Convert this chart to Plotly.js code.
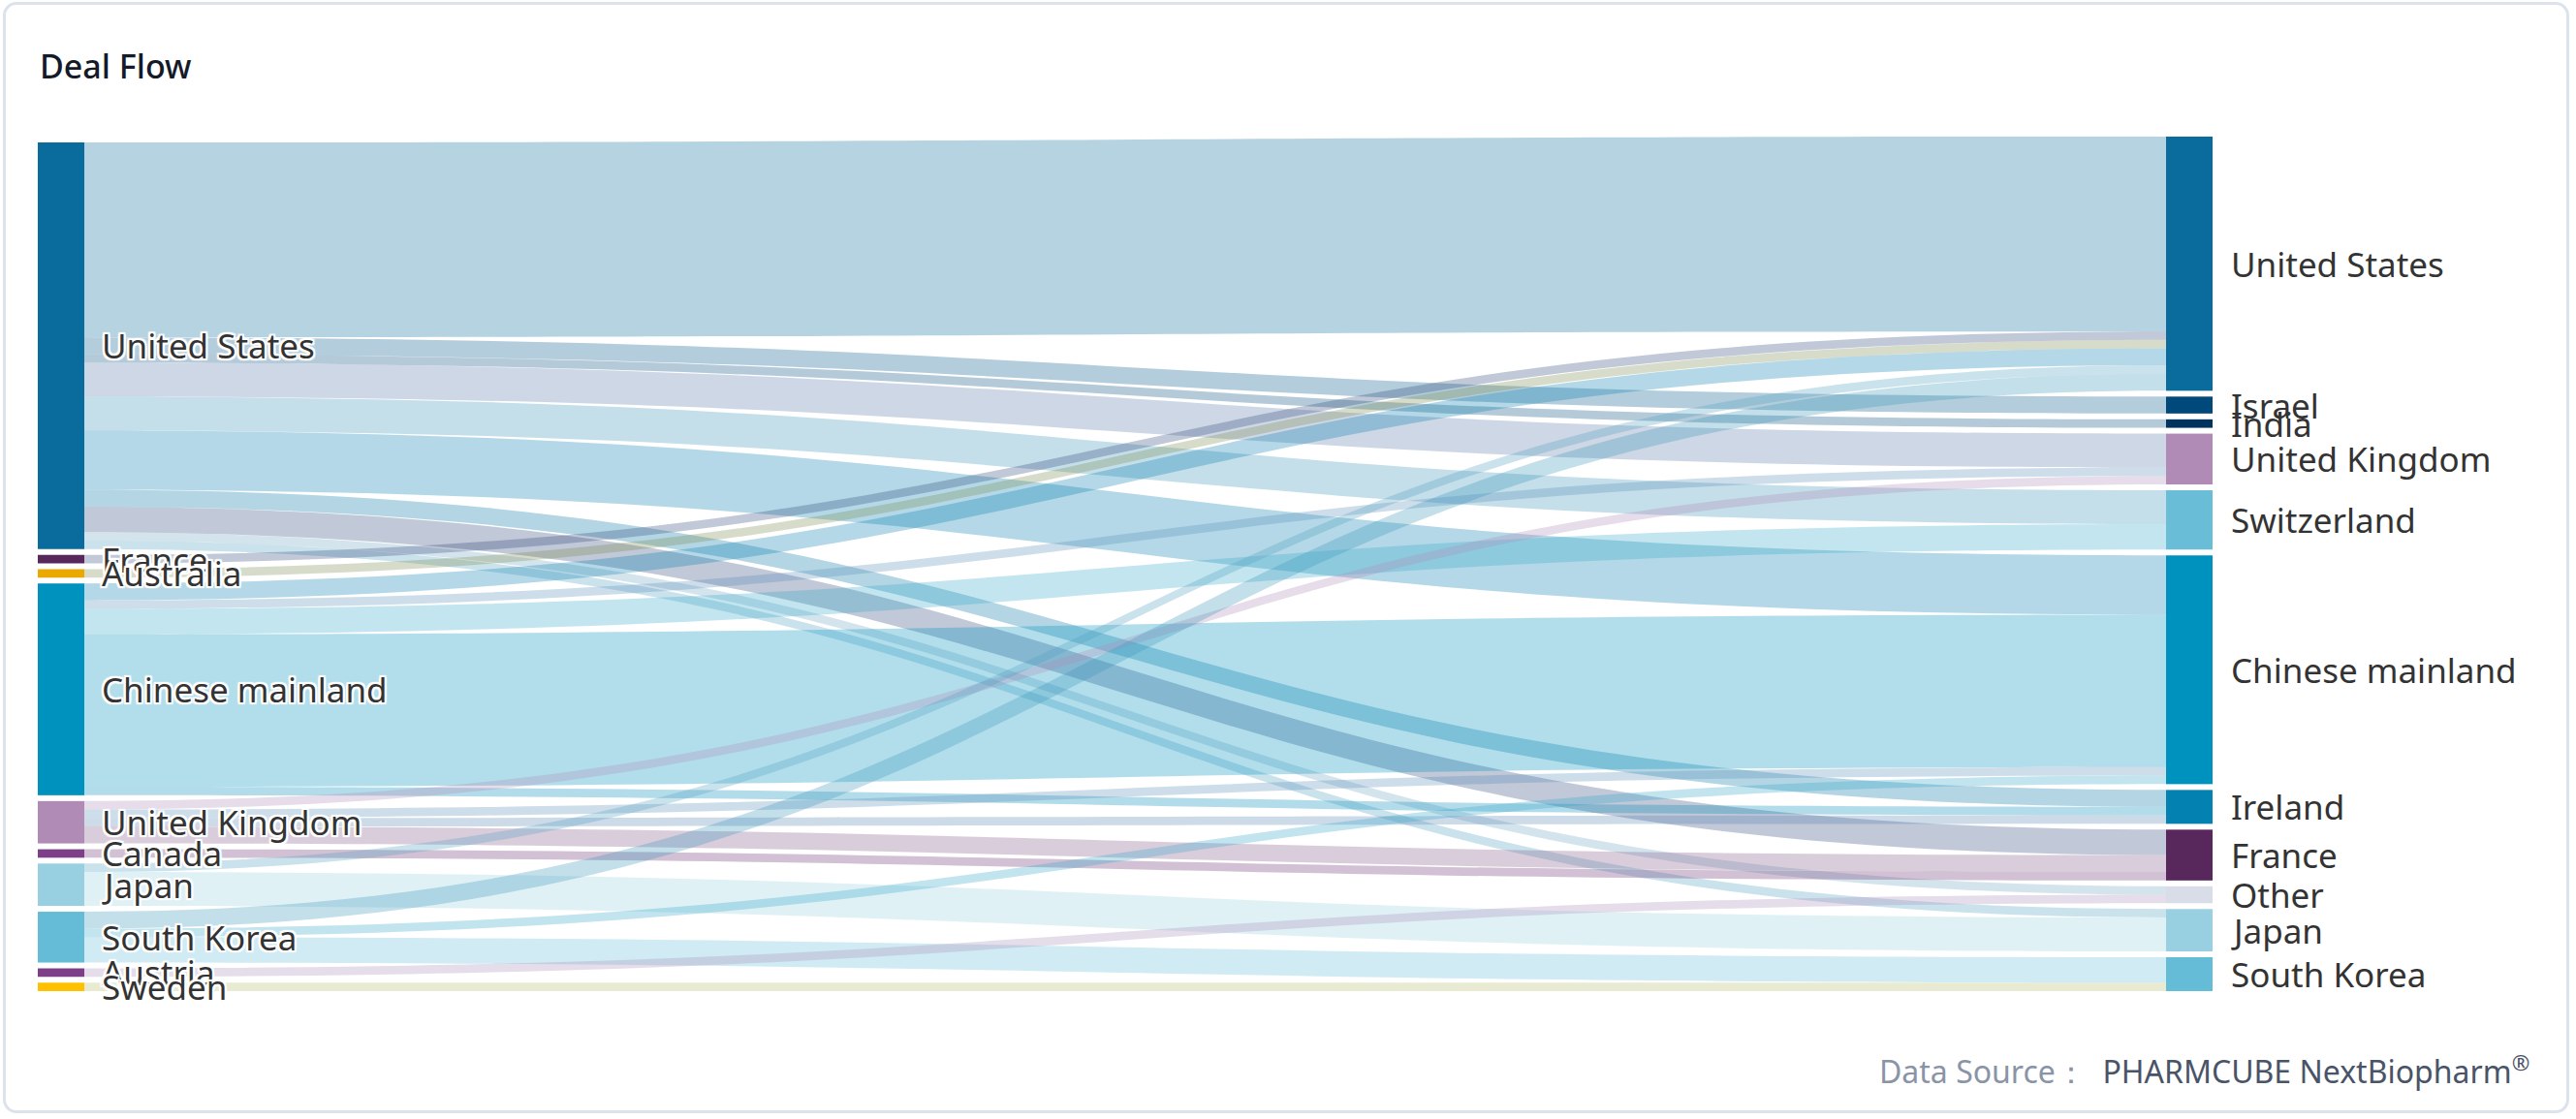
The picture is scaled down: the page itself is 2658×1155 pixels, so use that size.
<!DOCTYPE html>
<html>
<head>
<meta charset="utf-8">
<script src="https://cdn.plot.ly/plotly-3.0.1.min.js"></script>
<style>
html,body{margin:0;padding:0;background:#ffffff;}
#wrap{position:relative;width:2658px;height:1155px;}
#chart{width:2658px;height:1155px;}
#card{position:absolute;left:3px;top:2px;width:2648px;height:1147px;border:3px solid #dde3ec;border-radius:14px;box-sizing:border-box;pointer-events:none;}
</style>
</head>
<body>
<div id="wrap"><div id="chart"></div><div id="card"></div></div>
<script>
// ---- data ----
const sourceNodes = ['United States','France','Australia','Chinese mainland','United Kingdom','Canada','Japan','South Korea','Austria','Sweden'];
const targetNodes = ['United States','Israel','India','United Kingdom','Switzerland','Chinese mainland','Ireland','France','Other','Japan','South Korea'];
const sourceColors = ['#0a6c9c','#58275c','#eaa800','#0092bf','#b08bb5','#7c3f88','#98d0e1','#64bcd6','#7c3f88','#ffc000'];
const targetColors = ['#0a6c9c','#01497b','#00335e','#b08bb5','#6abdd6','#0092bf','#0381b0','#58275c','#d8dde8','#98d0e1','#64bcd6'];

const linkFrom = [
  'United States','United States','United States','United States','United States','United States','United States','United States','United States','United States',
  'France','Australia',
  'Chinese mainland','Chinese mainland','Chinese mainland','Chinese mainland','Chinese mainland',
  'United Kingdom','United Kingdom','United Kingdom','United Kingdom',
  'Canada',
  'Japan','Japan',
  'South Korea','South Korea','South Korea',
  'Austria','Sweden'
];
const linkTo = [
  'United States','Israel','India','United Kingdom','Switzerland','Chinese mainland','Ireland','France','Other','Japan',
  'United States','United States',
  'United States','United Kingdom','Switzerland','Chinese mainland','Ireland',
  'United Kingdom','Chinese mainland','Ireland','France',
  'France',
  'United States','Japan',
  'United States','Chinese mainland','South Korea',
  'Other','South Korea'
];
const linkValue = [
  23,2,1,4,4,7,2,3,1,1,
  1,1,
  2,1,3,18,1,
  1,1,1,2,
  1,
  1,4,
  2,1,3,
  1,1
];

// ---- layout constants ----
const FIG_W = 2658, FIG_H = 1155;
const M = {l:63, r:399, t:141, b:132};
const PW = FIG_W - M.l - M.r, PH = FIG_H - M.t - M.b;
const PAD = 6, THICK = 48;

// ---- derived node geometry (from the data) ----
const nL = sourceNodes.length, nR = targetNodes.length;
const outSum = sourceNodes.map(n => linkFrom.reduce((s, f, i) => s + (f === n ? linkValue[i] : 0), 0));
const inSum = targetNodes.map(n => linkTo.reduce((s, t, i) => s + (t === n ? linkValue[i] : 0), 0));
const sumL = outSum.reduce((a, b) => a + b, 0), sumR = inSum.reduce((a, b) => a + b, 0);
const ky = Math.min((PH - (nL - 1) * PAD) / sumL, (PH - (nR - 1) * PAD) / sumR);

function centers(values, n, bottomAlign) {
  const span = values.reduce((a, b) => a + b, 0) * ky + (n - 1) * PAD;
  let y = bottomAlign ? PH - span : 0;
  return values.map(v => { const c = y + v * ky / 2; y += v * ky + PAD; return c; });
}
const cL = centers(outSum, nL, true);
const cR = centers(inSum, nR, false);

function hex2rgb(h) { return [1,3,5].map(i => parseInt(h.substr(i, 2), 16)); }
function mix(a, b, al) {
  const x = hex2rgb(a), y = hex2rgb(b);
  return 'rgba(' + x.map((v, i) => Math.round((v + y[i]) / 2)).join(',') + ',' + al + ')';
}

const names = sourceNodes.concat(targetNodes);
const colors = sourceColors.concat(targetColors);
const nodeX = sourceNodes.map(() => 1e-6).concat(targetNodes.map(() => 1));
const nodeY = cL.map(c => c / PH).concat(cR.map(c => c / PH));

const src = linkFrom.map(f => sourceNodes.indexOf(f));
const tgt = linkTo.map(t => nL + targetNodes.indexOf(t));
const linkColors = src.map((s, i) => mix(colors[s], colors[tgt[i]], 0.3));

const trace = {
  type: 'sankey',
  arrangement: 'fixed',
  orientation: 'h',
  node: {
    label: names.map(() => ''),
    customdata: names,
    color: colors,
    x: nodeX,
    y: nodeY,
    pad: PAD,
    thickness: THICK,
    line: {width: 0},
    hovertemplate: '%{customdata}: %{value}<extra></extra>'
  },
  link: {
    source: src,
    target: tgt,
    value: linkValue,
    color: linkColors,
    line: {width: 0}
  }
};

const shadow = '2px 2px 1px #fff, -2px -2px 1px #fff, 2px -2px 1px #fff, -2px 2px 1px #fff, 0 2px 1px #fff, 0 -2px 1px #fff, 2px 0 1px #fff, -2px 0 1px #fff';
const annotations = [];
sourceNodes.forEach((n, i) => annotations.push({
  text: n, xref: 'paper', yref: 'paper', x: (103 - M.l) / PW, y: 1 - cL[i] / PH,
  xanchor: 'left', yanchor: 'middle', showarrow: false,
  font: {family: 'Noto Sans, sans-serif', size: 35, color: '#333333', shadow: shadow}
}));
targetNodes.forEach((n, i) => annotations.push({
  text: n, xref: 'paper', yref: 'paper', x: (2300 - M.l) / PW, y: 1 - cR[i] / PH,
  xanchor: 'left', yanchor: 'middle', showarrow: false,
  font: {family: 'Noto Sans, sans-serif', size: 35, color: '#333333'}
}));
annotations.push({
  text: '<span style="color:#8a94a7">Data Source：</span>  PHARMCUBE NextBiopharm<sup>®</sup>',
  xref: 'paper', yref: 'paper', x: (2612 - M.l) / PW, y: 1 - (1104 - M.t) / PH,
  xanchor: 'right', yanchor: 'middle', showarrow: false,
  font: {family: 'Noto Sans, sans-serif', size: 32, color: '#4a5468'}
});

const layout = {
  width: FIG_W, height: FIG_H,
  margin: M,
  paper_bgcolor: '#ffffff',
  font: {family: 'Noto Sans, sans-serif'},
  title: {
    text: 'Deal Flow', xref: 'container', yref: 'container',
    x: 41 / FIG_W, xanchor: 'left', y: 1 - 69 / FIG_H, yanchor: 'middle',
    font: {family: 'Noto Sans, sans-serif', size: 34, color: '#141a28', weight: 500}
  },
  annotations: annotations
};

Plotly.newPlot('chart', [trace], layout, {displayModeBar: false, responsive: false});
</script>
</body>
</html>
